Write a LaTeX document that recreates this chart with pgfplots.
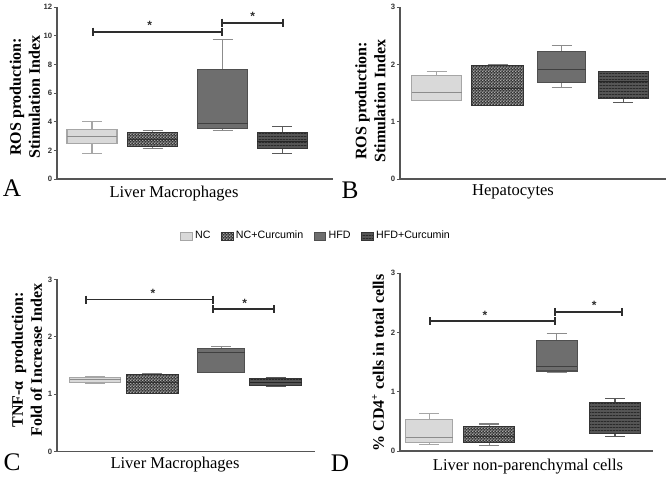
\documentclass[border=0pt]{standalone}
\usepackage{fontspec}
\setmainfont{Liberation Serif}
\newfontfamily\lsans{Liberation Sans}
\usepackage{pgfplots}
\pgfplotsset{compat=1.18}
\usepgfplotslibrary{statistics}
\usetikzlibrary{patterns}

\pgfdeclarepatternformonly{finecheck}{\pgfpointorigin}{\pgfqpoint{2.4pt}{2.4pt}}{\pgfqpoint{2.4pt}{2.4pt}}{%
 \pgfpathrectangle{\pgfpointorigin}{\pgfqpoint{1.2pt}{1.2pt}}%
 \pgfpathrectangle{\pgfqpoint{1.2pt}{1.2pt}}{\pgfqpoint{1.2pt}{1.2pt}}%
 \pgfusepath{fill}}
\pgfdeclarepatternformonly{finelines}{\pgfpointorigin}{\pgfqpoint{2pt}{2pt}}{\pgfqpoint{2pt}{2pt}}{%
 \pgfpathrectangle{\pgfpointorigin}{\pgfqpoint{2pt}{0.7pt}}\pgfusepath{fill}}

\definecolor{ncfill}{HTML}{D9D9D9}
\definecolor{ncedge}{HTML}{A6A6A6}
\definecolor{ccdark}{HTML}{333333}
\definecolor{cclight}{HTML}{A8A8A8}
\definecolor{hfdfill}{HTML}{6E6E6E}
\definecolor{hfdedge}{HTML}{4F4F4F}
\definecolor{hcfill}{HTML}{555555}
\definecolor{hcline}{HTML}{2A2A2A}
\definecolor{hcedge}{HTML}{353535}
\definecolor{axgray}{HTML}{555555}
\definecolor{sigc}{HTML}{2E2E2E}

\pgfplotsset{
  gNC/.style={forget plot,
    boxplot/every box/.style={fill=ncfill,draw=ncedge,line width=0.8pt},
    boxplot/every whisker/.style={draw=ncedge,line width=0.8pt},
    boxplot/every median/.style={draw=black!45,line width=0.8pt}},
  gNCC/.style={forget plot,
    boxplot/every box/.style={fill=ccdark,postaction={pattern=finecheck,pattern color=cclight},draw=ccdark,line width=0.8pt},
    boxplot/every whisker/.style={draw=black!50,line width=0.8pt},
    boxplot/every median/.style={draw=ccdark,line width=0.6pt}},
  gHFD/.style={forget plot,
    boxplot/every box/.style={fill=hfdfill,draw=hfdedge,line width=0.8pt},
    boxplot/every whisker/.style={draw=black!45,line width=0.8pt},
    boxplot/every median/.style={draw=black!75,line width=0.8pt}},
  gHC/.style={forget plot,
    boxplot/every box/.style={fill=hcfill,postaction={pattern=finelines,pattern color=hcline},draw=hcedge,line width=0.8pt},
    boxplot/every whisker/.style={draw=black!65,line width=0.8pt},
    boxplot/every median/.style={draw=black!85,line width=0.8pt}},
  panel/.style={scale only axis, anchor=south west, clip=false,
    boxplot/draw direction=y,
    axis x line*=bottom, axis y line*=left,
    axis line style={axgray, line width=1pt, -},
    xmin=0, ymin=0, xtick=\empty,
    ytick style={axgray, line width=0.7pt},
    tick align=outside, major tick length=2.4pt,
    yticklabel style={font=\lsans\bfseries\fontsize{5.8}{6}\selectfont, text=black!80, inner sep=1pt},
    /pgf/number format/assume math mode=true},
  sig/.style={forget plot, draw=sigc, line width=1.4pt, mark=|, mark size=3pt, mark options={line width=1.4pt, draw=sigc}},
}
\newcommand{\bp}[8]{\addplot[#1, boxplot prepared={draw position=#2, box extend=#3, whisker extend=20, lower whisker=#4, lower quartile=#5, median=#6, upper quartile=#7, upper whisker=#8}] coordinates {};}
\newcommand{\sigstar}[2]{\node[font=\lsans\bfseries\fontsize{9}{9}\selectfont, anchor=base, inner sep=0pt, text=sigc] at (axis cs:#1,#2) [yshift=1.5pt] {*};}

\begin{document}
\begin{tikzpicture}
\useasboundingbox (0,0) rectangle (499.5pt,359.25pt);

% Panel A
\begin{axis}[panel, at={(42.75pt,225pt)}, width=207pt, height=128.8pt,
  xmax=276, ymax=12, ytick={0,2,...,12},
  legend columns=4,
  legend style={at={(0.94,-0.332)}, anchor=center, draw=none, fill=none,
    font=\lsans\fontsize{8}{9}\selectfont, inner sep=0pt,
    /tikz/every even column/.append style={column sep=6pt}},
  legend image code/.code={\draw[#1] (0pt,-3pt) rectangle (8.5pt,3pt);}]
\bp{gNC}{35}{50}{1.75}{2.5}{2.95}{3.43}{4.0}
\bp{gNCC}{95.7}{50}{2.15}{2.26}{2.75}{3.24}{3.42}
\bp{gHFD}{165.7}{50}{3.36}{3.5}{3.89}{7.62}{9.72}
\bp{gHC}{225.3}{50}{1.8}{2.1}{2.6}{3.26}{3.66}
\addplot[sig] coordinates {(36,10.3) (165,10.3)};
\addplot[sig] coordinates {(165,10.93) (226,10.93)};
\sigstar{92.7}{10.3}
\sigstar{195.7}{10.93}
\addlegendimage{fill=ncfill, draw=ncedge, line width=0.6pt}
\addlegendentry{NC}
\addlegendimage{fill=ccdark, postaction={pattern=finecheck, pattern color=cclight}, draw=ccdark, line width=0.6pt}
\addlegendentry{NC+Curcumin}
\addlegendimage{fill=hfdfill, draw=hfdedge, line width=0.6pt}
\addlegendentry{HFD}
\addlegendimage{fill=hcfill, postaction={pattern=finelines, pattern color=hcline}, draw=hcedge, line width=0.6pt}
\addlegendentry{HFD+Curcumin}
\end{axis}

% Panel B
\begin{axis}[panel, at={(300pt,225pt)}, width=199.5pt, height=128.8pt,
  xmax=266, ymax=3, ytick={0,1,2,3}]
\bp{gNC}{36.7}{50}{1.37}{1.37}{1.51}{1.81}{1.875}
\bp{gNCC}{97.7}{52}{1.28}{1.28}{1.58}{1.98}{2.0}
\bp{gHFD}{161.7}{48}{1.6}{1.69}{1.92}{2.22}{2.33}
\bp{gHC}{223}{50}{1.33}{1.4}{1.71}{1.875}{1.88}
\end{axis}

% Panel C
\begin{axis}[panel, at={(42.75pt,20.5pt)}, width=193.5pt, height=129.2pt,
  xmax=258, ymax=3, ytick={0,1,2,3}]
\bp{gNC}{38.3}{51}{1.19}{1.21}{1.25}{1.29}{1.31}
\bp{gNCC}{95.3}{52}{1.01}{1.02}{1.2}{1.35}{1.36}
\bp{gHFD}{164.3}{47}{1.38}{1.38}{1.72}{1.79}{1.83}
\bp{gHC}{218.7}{52}{1.13}{1.16}{1.2}{1.27}{1.29}
\addplot[sig] coordinates {(28.7,2.65) (156,2.65)};
\addplot[sig] coordinates {(156,2.48) (217,2.48)};
\sigstar{96}{2.65}
\sigstar{187.7}{2.48}
\end{axis}

% Panel D
\begin{axis}[panel, at={(300pt,21pt)}, width=189.75pt, height=133.3pt,
  xmax=253, ymax=3, ytick={0,1,2,3}]
\bp{gNC}{29.3}{47}{0.107}{0.14}{0.23}{0.535}{0.636}
\bp{gNCC}{89.3}{51}{0.1}{0.14}{0.25}{0.41}{0.456}
\bp{gHFD}{156.7}{41}{1.32}{1.35}{1.42}{1.86}{1.99}
\bp{gHC}{215}{51}{0.25}{0.3}{0.55}{0.82}{0.89}
\addplot[sig] coordinates {(30,2.19) (155,2.19)};
\addplot[sig] coordinates {(155,2.35) (221.7,2.35)};
\sigstar{85}{2.19}
\sigstar{194.3}{2.35}
\end{axis}

% y labels
\node[rotate=90, align=center, inner sep=0pt, font=\bfseries\fontsize{12}{14.25}\selectfont] at (18.75pt,286.5pt) {ROS production:\\Stimulation Index};
\node[rotate=90, align=center, inner sep=0pt, font=\bfseries\fontsize{12}{14.25}\selectfont] at (277.9pt,283.5pt) {ROS production:\\Stimulation Index};
\node[rotate=90, align=center, inner sep=0pt, font=\bfseries\fontsize{12}{14.25}\selectfont] at (20.25pt,89.25pt) {TNF-α\ \ production:\\Fold of Increase Index};
\node[rotate=90, align=center, inner sep=0pt, font=\bfseries\fontsize{12}{14.25}\selectfont] at (283.5pt,87pt) {\% CD4\textsuperscript{+} cells in total cells};

% x labels
\node[inner sep=0pt, font=\fontsize{12.4}{14}\selectfont] at (130.5pt,213.75pt) {Liver Macrophages};
\node[inner sep=0pt, font=\fontsize{12.4}{14}\selectfont] at (384.75pt,215.25pt) {Hepatocytes};
\node[inner sep=0pt, font=\fontsize{12.4}{14}\selectfont] at (131.25pt,10.5pt) {Liver Macrophages};
\node[inner sep=0pt, font=\fontsize{12.4}{14}\selectfont] at (396pt,9pt) {Liver non-parenchymal cells};

% panel letters
\node[inner sep=0pt, font=\fontsize{19}{20}\selectfont] at (9pt,218.25pt) {A};
\node[inner sep=0pt, font=\fontsize{19}{20}\selectfont] at (262.5pt,216.75pt) {B};
\node[inner sep=0pt, font=\fontsize{19}{20}\selectfont] at (9pt,12.75pt) {C};
\node[inner sep=0pt, font=\fontsize{19}{20}\selectfont] at (255pt,12pt) {D};
\end{tikzpicture}
\end{document}
